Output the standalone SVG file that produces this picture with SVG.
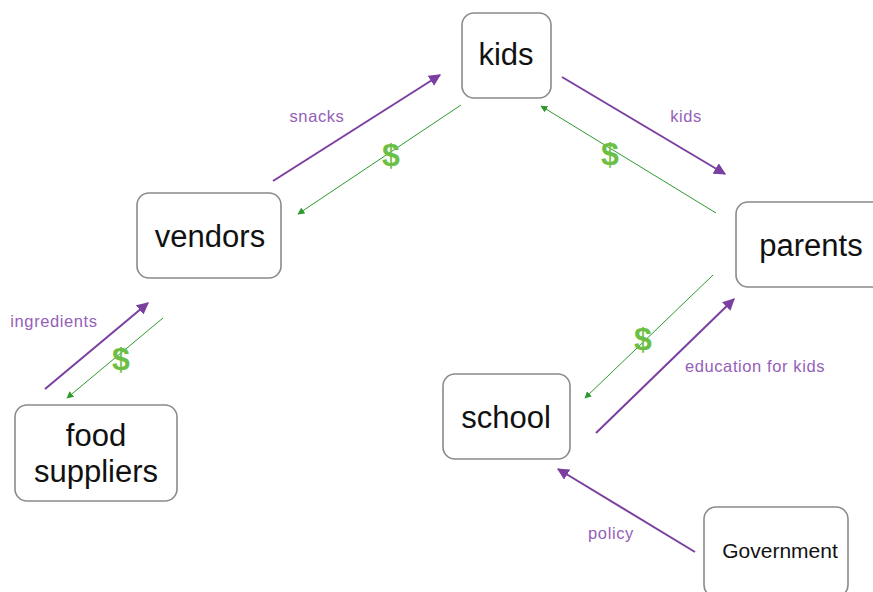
<svg xmlns="http://www.w3.org/2000/svg" width="873" height="592" viewBox="0 0 873 592">
  <style>
    .box { fill: #ffffff; stroke: #8a8a8a; stroke-width: 1.6; }
    .node { font-family: "Liberation Sans", Arial, sans-serif; font-size: 31px; fill: #111111; text-anchor: middle; }
    .small { font-size: 21px; }
    .flow { stroke: #7a3fa0; stroke-width: 2; fill: none; marker-end: url(#headP); }
    .money { stroke: #2e9a2e; stroke-width: 1; fill: none; marker-end: url(#headG); }
    .lbl { font-family: "Liberation Sans", Arial, sans-serif; font-size: 16.5px; letter-spacing: 0.6px; fill: #9460b8; text-anchor: middle; }
    .cash { font-family: "Liberation Sans", Arial, sans-serif; font-size: 32px; font-weight: bold; fill: #6cbf45; text-anchor: middle; }
  </style>
  <defs>
    <marker id="headP" viewBox="0 0 10 10" refX="9" refY="5" markerWidth="6" markerHeight="6" markerUnits="strokeWidth" orient="auto">
      <path d="M0,0 L10,5 L0,10 z" fill="#7a3fa0"/>
    </marker>
    <marker id="headG" viewBox="0 0 10 10" refX="9" refY="5" markerWidth="7" markerHeight="7" markerUnits="strokeWidth" orient="auto">
      <path d="M0,0 L10,5 L0,10 z" fill="#2e9a2e"/>
    </marker>
  </defs>

  <g id="connectors">
    <!-- vendors <-> kids -->
    <line class="flow" x1="273" y1="181" x2="440" y2="75"/>
    <line class="money" x1="461" y1="105" x2="298" y2="214"/>
    <text class="lbl" x="317" y="122">snacks</text>
    <text class="cash" x="391" y="166">$</text>
    <!-- kids <-> parents -->
    <line class="flow" x1="562" y1="77" x2="725" y2="174"/>
    <line class="money" x1="716" y1="213" x2="541" y2="106"/>
    <text class="lbl" x="686" y="122">kids</text>
    <text class="cash" x="610" y="165">$</text>
    <!-- food suppliers <-> vendors -->
    <line class="flow" x1="45" y1="389" x2="148" y2="303"/>
    <line class="money" x1="163" y1="318" x2="67" y2="398"/>
    <text class="lbl" x="54" y="327">ingredients</text>
    <text class="cash" x="121" y="370">$</text>
    <!-- school <-> parents -->
    <line class="flow" x1="596" y1="433" x2="734" y2="299"/>
    <line class="money" x1="713" y1="275" x2="585" y2="398"/>
    <text class="lbl" x="755" y="372">education for kids</text>
    <text class="cash" x="643" y="350">$</text>
    <!-- Government -> school -->
    <line class="flow" x1="695" y1="552" x2="558" y2="469"/>
    <text class="lbl" x="611" y="539">policy</text>
  </g>

  <g id="kids">
    <rect class="box" x="462" y="13" width="89" height="85" rx="12"/>
    <text class="node" x="506" y="65">kids</text>
  </g>
  <g id="vendors">
    <rect class="box" x="137" y="193" width="144" height="85" rx="12"/>
    <text class="node" x="210" y="247">vendors</text>
  </g>
  <g id="parents">
    <rect class="box" x="736" y="202" width="150" height="85" rx="12"/>
    <text class="node" x="811" y="256">parents</text>
  </g>
  <g id="school">
    <rect class="box" x="443" y="374" width="127" height="85" rx="12"/>
    <text class="node" x="506" y="428">school</text>
  </g>
  <g id="food-suppliers">
    <rect class="box" x="15" y="405" width="162" height="96" rx="12"/>
    <text class="node" x="96" y="446">food</text>
    <text class="node" x="96" y="482">suppliers</text>
  </g>
  <g id="government">
    <rect class="box" x="704" y="507" width="144" height="90" rx="12"/>
    <text class="node small" x="780" y="558">Government</text>
  </g>
</svg>
